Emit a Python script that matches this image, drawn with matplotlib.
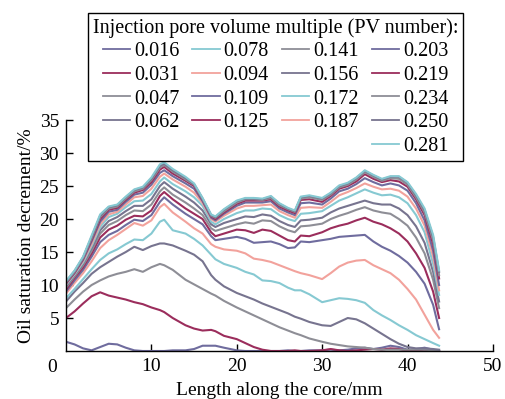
import matplotlib
matplotlib.use("Agg")
import matplotlib.pyplot as plt
from matplotlib.lines import Line2D
import matplotlib.transforms as mtransforms

plt.rcParams['font.family'] = ['Liberation Serif', 'DejaVu Serif']
plt.rcParams['font.size'] = 14

# Position along core (mm)
x_mm = [0, 1, 2, 3, 4, 5, 6, 7, 8, 9, 10, 11, 11.5, 12.5, 14, 15, 16, 17, 17.5, 18.5,
        20, 21, 22, 23, 24, 25, 26, 26.8, 27.5, 28.5, 30, 31, 32, 33, 34, 35, 36, 37, 38, 39,
        40, 41, 42, 43, 43.7]

pv_labels = ["0.016", "0.031", "0.047", "0.062", "0.078", "0.094", "0.109", "0.125", "0.141",
             "0.156", "0.172", "0.187", "0.203", "0.219", "0.234", "0.250", "0.281"]

s_016 = [1.4, 1.0, 0.4, 0.1, 0.6, 1.1, 1.0, 0.5, 0.1, 0, 0, 0, 0, 0.1, 0.1, 0.3, 0.8, 0.8, 0.8, 0.5,
         0.1, 0, 0, 0, 0, 0, 0.1, 0, 0, 0.1, 0.1, 0.2, 0.1, 0.2, 0.4, 0.5, 0.3, 0.5, 0.8, 0.6,
         0.2, 0.3, 0.5, 0.2, 0.0]
s_031 = [5.0, 6.0, 7.2, 8.3, 8.9, 8.4, 8.1, 7.8, 7.4, 7.1, 6.6, 6.2, 5.9, 5.0, 3.9, 3.4, 3.1, 3.2, 3.0, 2.3,
         1.8, 1.2, 0.6, 0.2, 0, 0, 0, 0.1, 0, 0, 0.1, 0.3, 0.1, 0, 0.1, 0.2, 0.3, 0.2, 0.4, 0.3,
         0, 0.1, 0.2, 0.1, 0]
s_047 = [6.5, 7.8, 9.0, 10.0, 10.7, 11.3, 11.7, 12.0, 12.4, 12.0, 12.7, 13.2, 13.0, 12.3, 10.8, 10.1, 9.4, 8.7, 8.4, 7.6,
         6.6, 6.0, 5.4, 4.8, 4.2, 3.6, 3.1, 2.7, 2.4, 1.9, 1.4, 1.1, 0.9, 0.7, 0.6, 0.5, 0.3, 0.2, 0.2, 0.2,
         0.2, 0.2, 0.2, 0.1, 0.1]
s_062 = [7.5, 9.0, 10.3, 11.7, 12.7, 13.5, 14.3, 15.0, 15.8, 15.3, 15.9, 16.3, 16.3, 16.0, 15.2, 14.6, 13.6, 11.5, 10.8, 9.8,
         8.8, 8.3, 7.8, 7.2, 6.7, 6.2, 5.7, 5.2, 4.9, 4.4, 3.9, 3.8, 4.4, 5.0, 4.8, 4.2, 3.4, 2.6, 1.8, 1.1,
         0.6, 0.4, 0.4, 0.3, 0.2]
s_078 = [8.0, 9.4, 10.9, 12.4, 13.8, 14.8, 15.4, 16.2, 16.9, 16.8, 17.8, 19.6, 19.9, 18.3, 17.8, 17.0, 16.0, 14.6, 13.9, 13.2,
         12.6, 12.0, 11.6, 10.7, 10.6, 10.3, 9.6, 9.2, 9.2, 8.6, 7.4, 7.7, 8.0, 7.9, 7.7, 7.3, 6.2, 5.4, 4.7, 3.9,
         3.2, 2.4, 1.8, 1.2, 0.8]
s_094 = [8.7, 10.3, 11.8, 13.6, 15.6, 16.8, 17.6, 18.5, 19.4, 19.0, 19.8, 21.8, 22.3, 21.0, 19.6, 18.6, 17.8, 16.2, 15.8, 15.4,
         15.2, 14.8, 14.0, 13.8, 13.5, 13.0, 12.5, 12.1, 11.8, 11.5, 10.9, 11.8, 12.8, 13.4, 13.7, 13.8, 13.0, 12.4, 11.8, 10.8,
         9.4, 7.8, 5.5, 3.2, 2.0]
s_109 = [9.0, 10.7, 12.3, 14.3, 16.5, 17.6, 18.2, 19.1, 19.9, 19.7, 20.6, 22.6, 23.3, 22.2, 20.8, 20.0, 19.2, 17.4, 16.8, 17.0,
         17.3, 17.0, 16.4, 16.5, 16.6, 16.2, 15.6, 15.7, 16.6, 16.5, 16.8, 17.0, 17.3, 17.4, 17.5, 17.6, 16.6, 15.8, 15.2, 14.4,
         13.4, 12.0, 10.2, 7.0, 3.3]
s_125 = [9.3, 11.1, 12.7, 14.8, 17.2, 18.4, 19.0, 19.9, 20.5, 20.4, 21.3, 23.5, 24.1, 23.0, 21.6, 20.8, 20.0, 18.0, 17.4, 17.8,
         18.4, 18.3, 17.9, 18.4, 18.2, 17.5, 16.8, 16.6, 17.5, 17.4, 18.0, 18.6, 19.0, 19.3, 19.8, 20.2, 19.6, 19.2, 18.6, 17.8,
         16.6, 14.8, 12.6, 9.0, 5.0]
s_141 = [9.6, 11.3, 13.0, 15.2, 17.8, 19.1, 19.7, 20.6, 21.3, 21.2, 22.2, 24.2, 24.8, 23.7, 22.5, 21.6, 20.6, 18.6, 18.2, 18.6,
         19.2, 19.5, 19.3, 19.8, 19.7, 18.9, 18.3, 18.0, 18.9, 19.0, 19.3, 20.0, 20.5, 20.9, 21.4, 21.8, 21.3, 21.0, 20.8, 20.0,
         19.0, 17.2, 14.8, 10.8, 6.5]
s_156 = [9.8, 11.5, 13.2, 15.6, 18.3, 19.7, 20.3, 21.2, 22.0, 22.0, 23.0, 25.0, 25.6, 24.6, 23.4, 22.5, 21.3, 19.2, 18.8, 19.4,
         20.0, 20.4, 20.3, 20.7, 20.5, 19.7, 19.1, 18.8, 19.8, 19.9, 20.2, 21.0, 21.6, 22.0, 22.4, 22.8, 22.4, 22.2, 22.2, 21.6,
         20.6, 18.9, 16.4, 12.0, 7.5]
s_172 = [10.0, 11.6, 13.4, 15.9, 18.8, 20.3, 20.8, 21.8, 22.7, 22.8, 23.8, 25.7, 26.3, 25.3, 24.2, 23.3, 22.0, 19.6, 19.2, 20.0,
         20.9, 21.3, 21.3, 21.6, 21.5, 20.6, 20.0, 19.7, 20.8, 20.9, 21.2, 22.0, 22.8, 23.3, 23.9, 24.5, 24.0, 23.6, 23.7, 23.3,
         22.4, 20.6, 18.0, 13.2, 8.5]
s_187 = [10.1, 11.7, 13.6, 16.2, 19.2, 20.7, 21.1, 22.2, 23.3, 23.5, 24.6, 26.4, 26.9, 26.0, 24.9, 24.0, 22.4, 20.0, 19.6, 20.5,
         21.6, 22.0, 22.0, 22.1, 22.2, 21.2, 20.6, 20.2, 21.7, 21.8, 21.7, 22.6, 23.6, 24.1, 24.7, 25.4, 24.9, 24.5, 24.6, 24.3,
         23.4, 21.6, 19.0, 14.3, 9.2]
s_203 = [10.2, 11.8, 13.8, 16.6, 19.6, 21.1, 21.4, 22.6, 23.7, 24.0, 25.2, 27.0, 27.4, 26.5, 25.4, 24.6, 22.7, 20.2, 19.8, 20.8,
         22.0, 22.5, 22.5, 22.5, 22.7, 21.6, 21.0, 20.6, 22.4, 22.5, 22.2, 23.1, 24.2, 24.6, 25.3, 26.2, 25.6, 25.1, 25.4, 25.1,
         24.3, 22.4, 19.8, 15.2, 10.0]
s_219 = [10.3, 11.9, 14.0, 16.9, 20.0, 21.4, 21.7, 22.9, 24.0, 24.4, 25.6, 27.5, 27.9, 26.9, 25.8, 25.0, 22.9, 20.4, 20.0, 21.0,
         22.3, 22.8, 22.8, 22.8, 23.0, 21.9, 21.3, 20.9, 22.9, 23.0, 22.6, 23.5, 24.6, 25.0, 25.7, 26.8, 26.1, 25.6, 25.9, 25.7,
         24.9, 23.0, 20.6, 16.2, 11.0]
s_234 = [10.4, 12.0, 14.1, 17.1, 20.3, 21.6, 21.9, 23.1, 24.2, 24.6, 25.9, 27.8, 28.2, 27.2, 26.0, 25.2, 23.0, 20.5, 20.2, 21.2,
         22.5, 23.0, 23.0, 22.9, 23.2, 22.1, 21.5, 21.1, 23.1, 23.3, 22.9, 23.7, 24.8, 25.2, 26.0, 27.1, 26.4, 25.8, 26.2, 26.1,
         25.2, 23.3, 21.0, 16.8, 11.5]
s_250 = [10.5, 12.1, 14.2, 17.3, 20.5, 21.8, 22.1, 23.3, 24.4, 24.8, 26.1, 28.1, 28.4, 27.4, 26.2, 25.3, 23.1, 20.6, 20.3, 21.4,
         22.7, 23.1, 23.1, 23.0, 23.4, 22.3, 21.6, 21.2, 23.3, 23.5, 23.1, 23.9, 25.0, 25.4, 26.2, 27.3, 26.6, 26.0, 26.4, 26.4,
         25.5, 23.6, 21.4, 17.3, 12.0]
s_281 = [10.6, 12.2, 14.3, 17.5, 20.7, 21.9, 22.2, 23.4, 24.5, 24.9, 26.3, 28.3, 28.6, 27.6, 26.4, 25.4, 23.2, 20.7, 20.4, 21.5,
         22.8, 23.2, 23.2, 23.1, 23.5, 22.4, 21.7, 21.3, 23.4, 23.6, 23.2, 24.0, 25.1, 25.5, 26.3, 27.4, 26.7, 26.1, 26.5, 26.5,
         25.6, 23.8, 21.6, 17.6, 12.2]

series = [s_016, s_031, s_047, s_062, s_078, s_094, s_109, s_125, s_141,
          s_156, s_172, s_187, s_203, s_219, s_234, s_250, s_281]

palette = ['#6f6c9e', '#9b2d5c', '#8e8e96', '#77748f', '#86c9d2', '#f2a29c']

fig = plt.figure(figsize=(5.05, 3.99), dpi=100)
ax = fig.add_axes([0.1307, 0.1203, 0.8453, 0.5787])

handles = []
for i, (lab, ys) in enumerate(zip(pv_labels, series)):
    h, = ax.plot(x_mm, ys, color=palette[i % 6], lw=1.5, label=lab)
    handles.append(h)

ax.set_xlim(0, 50)
ax.set_ylim(0, 35)
ax.set_xticks([10, 20, 30, 40, 50])
ax.set_yticks([5, 10, 15, 20, 25, 30, 35])
ax.tick_params(direction='in', length=5, width=1, pad=5, labelsize=14)
for s in ['top', 'right']:
    ax.spines[s].set_visible(False)
for s in ['left', 'bottom']:
    ax.spines[s].set_linewidth(1.0)
ax.set_xlabel('Length along the core/mm', fontsize=14, labelpad=5)
ax.set_ylabel('Oil saturation decrement/%', fontsize=14, labelpad=3)

off = mtransforms.offset_copy(ax.transData, fig=fig, x=-14, y=-16, units='dots')
ax.text(0, 0, '0', transform=off, ha='center', va='center', fontsize=14)

# legend: 4 columns, last column holds 5 entries
blank = Line2D([], [], color='none')
order = [handles[0:4], handles[4:8], handles[8:12], handles[12:17]]
leg_handles = []
leg_labels = []
for col in order:
    for h in col:
        leg_handles.append(h)
        leg_labels.append(h.get_label())
    if len(col) < 5:
        leg_handles.append(blank)
        leg_labels.append('')

leg = fig.legend(leg_handles, leg_labels, ncol=4, loc='upper left',
                 bbox_to_anchor=(0.174, 0.967), bbox_transform=fig.transFigure,
                 title='Injection pore volume multiple (PV number):',
                 title_fontsize=14.5, fontsize=14.5, frameon=True, fancybox=False,
                 edgecolor='black', framealpha=1, borderaxespad=0,
                 handlelength=1.35, handletextpad=0.2, columnspacing=0.65,
                 labelspacing=0.22, borderpad=0.25)
leg.get_frame().set_linewidth(1.0)
for lh in leg.get_lines():
    lh.set_linewidth(1.3)

fig.savefig('out.png', dpi=100)
